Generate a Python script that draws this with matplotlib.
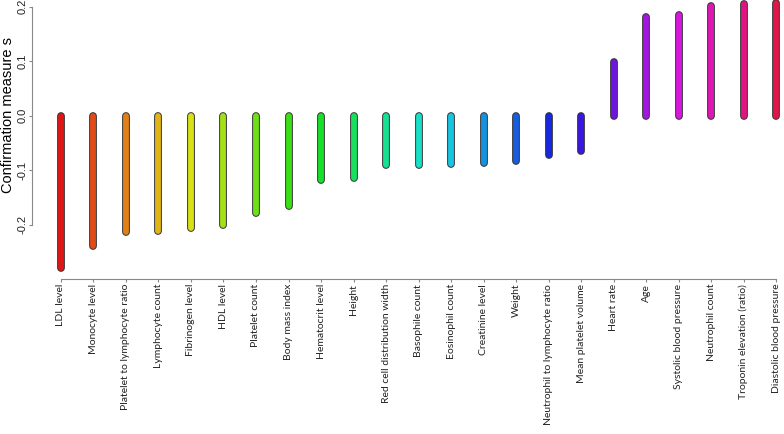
import colorsys
import matplotlib
matplotlib.use('Agg')
import matplotlib.pyplot as plt
import matplotlib.patheffects as pe

names = ['LDL level', 'Monocyte level', 'Platelet to lymphocyte ratio',
         'Lymphocyte count', 'Fibrinogen level', 'HDL level', 'Platelet count',
         'Body mass index', 'Hematocrit level', 'Height',
         'Red cell distribution width', 'Basophile count', 'Eosinophil count',
         'Creatinine level', 'Weight', 'Neutrophil to lymphocyte ratio',
         'Mean platelet volume', 'Heart rate', 'Age', 'Systolic blood pressure',
         'Neutrophil count', 'Troponin elevation (ratio)', 'Diastolic blood pressure']
values = [-0.280, -0.240, -0.213, -0.211, -0.207, -0.201, -0.178, -0.166,
          -0.119, -0.115, -0.090, -0.090, -0.089, -0.088, -0.084, -0.072,
          -0.065, 0.099, 0.181, 0.184, 0.201, 0.205, 0.207]
yticks = [-0.2, -0.1, 0.0, 0.1, 0.2]

n = len(values)
x = list(range(n))
colors = [colorsys.hsv_to_rgb(i / n, 0.9, 0.88) for i in range(n)]

fig = plt.figure(figsize=(7.84, 4.34), dpi=100)
ax = fig.add_axes([32 / 784, 155 / 434, 750 / 784, 279 / 434])

for xi, v, c in zip(x, values, colors):
    ax.plot([xi, xi], [0, v], color=c, lw=4.2, solid_capstyle='round',
            path_effects=[pe.Stroke(linewidth=5.6, foreground='#333333'), pe.Normal()])

ax.set_xlim(-0.89, n - 1 + 0.18)
ax.set_ylim(-0.30, 0.212)
for s in ['top', 'right']:
    ax.spines[s].set_visible(False)
ax.spines['left'].set_bounds(-0.2, 0.2)
ax.spines['bottom'].set_bounds(0, n - 1)
for s in ['left', 'bottom']:
    ax.spines[s].set_color('#888888')
    ax.spines[s].set_linewidth(0.8)

ax.set_yticks(yticks)
ax.set_yticklabels(['%.1f' % t for t in yticks], rotation=90, va='center',
                   fontsize=8, family='Liberation Sans', color='#222222')
ax.set_xticks(x)
ax.set_xticklabels(names, rotation=90, fontsize=7.5, family='Lato', color='#222222')
ax.tick_params(axis='both', color='#888888', length=2.5, width=0.8, pad=1)
fig.text(8 / 784, 1 - 115 / 434, 'Confirmation measure s', rotation=90,
         ha='center', va='center', fontsize=10.5, family='Liberation Sans')

fig.savefig('out.png', dpi=100)
